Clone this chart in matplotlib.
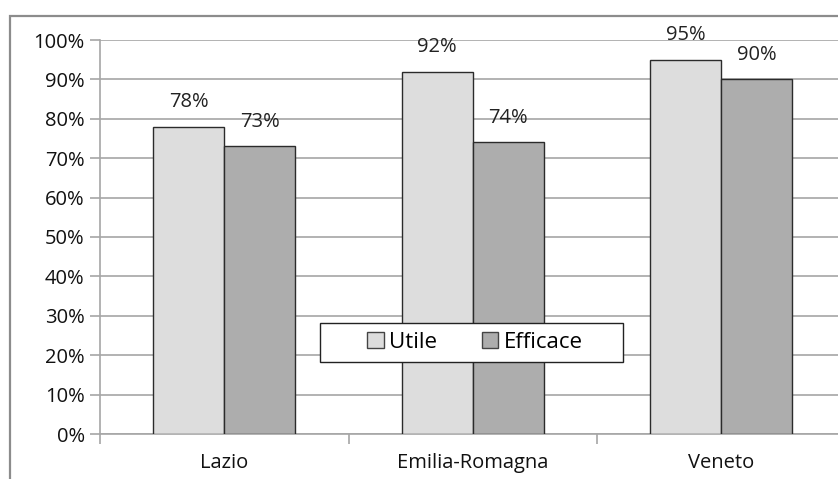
import numpy as np
import matplotlib
matplotlib.use("Agg")
import matplotlib.pyplot as plt
from matplotlib.patches import Rectangle
from matplotlib.ticker import FixedLocator, FuncFormatter

plt.rcParams['font.family'] = ['Open Sans', 'DejaVu Sans']

regions = ['Lazio', 'Emilia-Romagna', 'Veneto']
utile = [78, 92, 95]
efficace = [73, 74, 90]
series_names = ['Utile', 'Efficace']
y_ticks = [0, 10, 20, 30, 40, 50, 60, 70, 80, 90, 100]

c_utile = '#dddddd'
c_eff = '#adadad'
edge = '#2b2b2b'
grid_c = '#a6a6a6'
fs = 14.5

W, H = 838, 479
fig = plt.figure(figsize=(W / 100, H / 100), dpi=100)

# outer chart-area frame, cut off at right and bottom like the original
fig.patches.append(Rectangle((10 / W, -0.1), 1.0, 1 - 16 / H + 0.1,
                             transform=fig.transFigure, fill=False,
                             edgecolor='#8c8c8c', lw=1.6))

ax = fig.add_axes([100 / W, 1 - 434 / H, 745.5 / W, 394 / H])

x = np.arange(len(regions))
bw = 1 / 3.5
b1 = ax.bar(x - bw / 2, utile, bw, color=c_utile, edgecolor=edge, lw=1, zorder=3, label=series_names[0])
b2 = ax.bar(x + bw / 2, efficace, bw, color=c_eff, edgecolor=edge, lw=1, zorder=3, label=series_names[1])

for bars, vals in ((b1, utile), (b2, efficace)):
    for r, v in zip(bars, vals):
        ax.annotate(f'{v}%', (r.get_x() + r.get_width() / 2, v), xytext=(0, 10.5),
                    textcoords='offset points', ha='center', va='bottom',
                    fontsize=fs, color='#222222', zorder=4)

ax.set_xlim(-0.5, 2.5)
ax.set_ylim(0, 100)
ax.yaxis.set_major_locator(FixedLocator(y_ticks))
ax.yaxis.set_major_formatter(FuncFormatter(lambda v, p: f'{v:.0f}%'))
ax.grid(axis='y', color=grid_c, lw=1.2, zorder=0)
ax.set_axisbelow(True)

ax.set_xticks(x)
ax.set_xticklabels(regions, fontsize=fs)
ax.xaxis.set_minor_locator(FixedLocator([-0.5, 0.5, 1.5, 2.5]))
ax.tick_params(axis='x', which='major', length=0, pad=14, colors='#111111')
ax.tick_params(axis='x', which='minor', length=7, color=grid_c, width=1.2)
ax.tick_params(axis='y', length=7, color=grid_c, width=1.2, labelsize=fs,
               labelcolor='#111111', pad=4)

for s in ('top', 'right'):
    ax.spines[s].set_visible(False)
ax.spines['left'].set_color(grid_c)
ax.spines['bottom'].set_color(grid_c)
ax.spines['left'].set_linewidth(1.2)
ax.spines['bottom'].set_linewidth(1.2)

# legend box: wide frame drawn separately, entries centred inside it
ax.add_patch(Rectangle((320 / W, 1 - 362 / H), 303 / W, 39 / H,
                       transform=fig.transFigure, facecolor='white',
                       edgecolor='#222222', lw=1.0, zorder=5, clip_on=False))
leg = ax.legend(loc='center', bbox_to_anchor=(475 / W, 1 - 342.5 / H),
                bbox_transform=fig.transFigure, ncol=2, fontsize=16,
                frameon=False, handlelength=0.75, handleheight=0.75,
                handletextpad=0.25, columnspacing=2.0, borderpad=0,
                borderaxespad=0)
leg.set_zorder(6)
for h in leg.legend_handles:
    h.set_edgecolor('#444444')

fig.savefig('out.png', dpi=100)
